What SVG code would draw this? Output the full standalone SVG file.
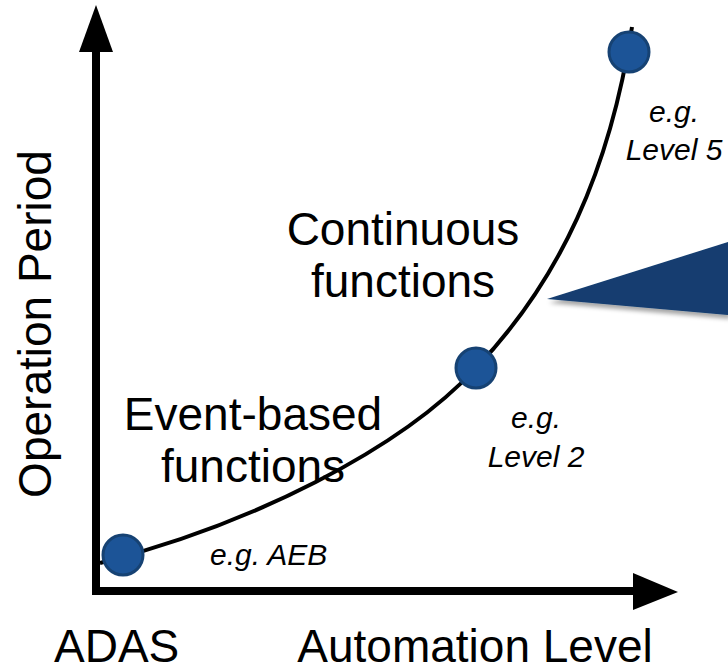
<svg xmlns="http://www.w3.org/2000/svg" width="728" height="672" viewBox="0 0 728 672">
  <style>
    .big { font-family: "Liberation Sans", Arial, sans-serif; font-size: 46px; fill: #000; }
    .small { font-family: "Liberation Sans", Arial, sans-serif; font-size: 30px; font-style: italic; fill: #000; }
    .dot { fill: #1c5497; stroke: #164273; stroke-width: 3; }
    .axis { stroke: #000; stroke-width: 8; fill: none; }
  </style>
  <defs>
    <filter id="sh" x="-10%" y="-20%" width="130%" height="160%">
      <feDropShadow dx="2" dy="4" stdDeviation="2" flood-color="#000" flood-opacity="0.35"/>
    </filter>
  </defs>
  <rect width="728" height="672" fill="#fff"/>

  <g id="connectors">
    <line class="axis" x1="96" y1="50" x2="96" y2="595"/>
    <polygon points="96,5 113,52 79,52" fill="#000"/>
    <line class="axis" x1="92" y1="591" x2="636" y2="591"/>
    <polygon points="678,592 633,573 633,610" fill="#000"/>
    <path d="M100,563 C250,525 400,450 476,368 C560,280 610,170 632,27" fill="none" stroke="#000" stroke-width="4"/>
  </g>

  <g id="callout">
    <polygon points="547,299 728,242 728,315" fill="#133d6f" filter="url(#sh)"/>
  </g>

  <g id="node-aeb">
    <circle class="dot" cx="123" cy="555" r="20"/>
    <text class="small" x="210" y="565">e.g. AEB</text>
  </g>
  <g id="node-level2">
    <circle class="dot" cx="476" cy="368" r="20"/>
    <text class="small" x="536" y="428" text-anchor="middle">e.g.</text>
    <text class="small" x="536" y="467" text-anchor="middle">Level 2</text>
  </g>
  <g id="node-level5">
    <circle class="dot" cx="629" cy="52" r="20"/>
    <text class="small" x="674" y="122" text-anchor="middle">e.g.</text>
    <text class="small" x="674" y="160" text-anchor="middle">Level 5</text>
  </g>

  <g id="label-continuous">
    <text class="big" x="403" y="245" text-anchor="middle">Continuous</text>
    <text class="big" x="403" y="297" text-anchor="middle">functions</text>
  </g>
  <g id="label-event">
    <text class="big" x="253" y="430" text-anchor="middle">Event-based</text>
    <text class="big" x="253" y="482" text-anchor="middle">functions</text>
  </g>

  <g id="axis-labels">
    <text class="big" transform="translate(51,324) rotate(-90)" text-anchor="middle">Operation Period</text>
    <text class="big" x="54" y="662">ADAS</text>
    <text class="big" x="475" y="662" text-anchor="middle">Automation Level</text>
  </g>
</svg>
